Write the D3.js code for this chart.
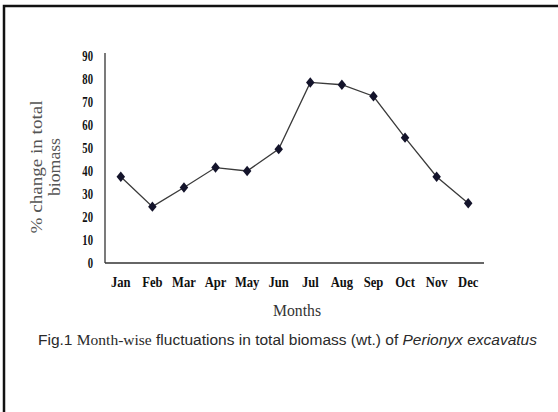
<!DOCTYPE html>
<html>
<head>
<meta charset="utf-8">
<script src="https://cdn.jsdelivr.net/npm/d3@7"></script>
<style>
  body { margin: 0; background: #fff; }
  svg { display: block; }
</style>
</head>
<body>
<div id="graph-container"></div>
<script>
const months = ["Jan", "Feb", "Mar", "Apr", "May", "Jun", "Jul", "Aug", "Sep", "Oct", "Nov", "Dec"];
const biomassChange = [37.5, 24.5, 32.8, 41.5, 40, 49.5, 78.5, 77.5, 72.5, 54.5, 37.5, 26];
const yTicks = [0, 10, 20, 30, 40, 50, 60, 70, 80, 90];

const width = 558;
const height = 412;
const margin = { top: 56, right: 74, bottom: 149, left: 105 };

const svg = d3
  .select("#graph-container")
  .append("svg")
  .attr("width", width)
  .attr("height", height);

// frame (only top and left edges show)
svg.append("path")
  .attr("d", `M4,${height} L4,6 L${width},6`)
  .attr("fill", "none")
  .attr("stroke", "#111")
  .attr("stroke-width", 2.5);

const x = d3
  .scaleBand()
  .domain(months)
  .range([margin.left, width - margin.right]);

const y = d3
  .scaleLinear()
  .domain([0, 90])
  .range([height - margin.bottom, margin.top]);

//axes
const xAxis = svg.append("g")
  .attr("transform", `translate(0,${y(0)})`)
  .call(d3.axisBottom(x).tickSize(0).tickPadding(14));

const yAxis = svg.append("g")
  .attr("transform", `translate(${margin.left},0)`)
  .call(d3.axisLeft(y).tickValues(yTicks).tickSize(0).tickPadding(12));

[xAxis, yAxis].forEach((g) => {
  g.select(".domain").attr("stroke", "#333").attr("stroke-width", 1.3);
  g.selectAll("text")
    .attr("font-family", "Liberation Serif, serif")
    .attr("font-weight", "bold")
    .attr("font-size", 14)
    .attr("fill", "#111");
});
xAxis.select(".domain").attr("d", `M${margin.left},0H${width - margin.right}`);
yAxis.select(".domain").attr("d", `M0,${y(0)}V${y(90) - 3}`);

// condensed look of the labels
yAxis.selectAll("text").each(function () {
  const w = this.getComputedTextLength();
  d3.select(this).attr("textLength", w * 0.76).attr("lengthAdjust", "spacingAndGlyphs");
});
xAxis.selectAll("text").each(function () {
  const w = this.getComputedTextLength();
  d3.select(this).attr("textLength", w * 0.9).attr("lengthAdjust", "spacingAndGlyphs");
});

//line
svg.append("path")
  .datum(biomassChange)
  .attr("fill", "none")
  .attr("stroke", "#3a3a3a")
  .attr("stroke-width", 1.3)
  .attr("d", d3.line()
    .x((d, i) => x(months[i]) + x.bandwidth() / 2)
    .y((d) => y(d)));

//markers: slightly tall diamonds
const diamond = {
  draw(context, size) {
    const h = Math.sqrt(size) * 0.72;
    const w = h * 0.82;
    context.moveTo(0, -h);
    context.lineTo(w, 0);
    context.lineTo(0, h);
    context.lineTo(-w, 0);
    context.closePath();
  },
};
svg.selectAll("path.marker")
  .data(biomassChange)
  .enter()
  .append("path")
  .attr("class", "marker")
  .attr("d", d3.symbol().type(diamond).size(52))
  .attr("transform", (d, i) => `translate(${x(months[i]) + x.bandwidth() / 2},${y(d)})`)
  .attr("fill", "#14142b");

//axis titles
svg.append("text")
  .attr("x", 297)
  .attr("y", 316)
  .attr("text-anchor", "middle")
  .attr("font-family", "Liberation Serif, serif")
  .attr("font-size", 17)
  .attr("fill", "#333")
  .attr("textLength", 48)
  .attr("lengthAdjust", "spacingAndGlyphs")
  .text("Months");

const yTitle = svg.append("text")
  .attr("transform", "translate(0,167) rotate(-90)")
  .attr("text-anchor", "middle")
  .attr("font-family", "Liberation Serif, serif")
  .attr("font-size", 16)
  .attr("fill", "#555");
yTitle.append("tspan").attr("x", 0).attr("y", 42)
  .attr("textLength", 133).attr("lengthAdjust", "spacingAndGlyphs")
  .text("% change  in total");
yTitle.append("tspan").attr("x", 0).attr("y", 60)
  .attr("textLength", 58).attr("lengthAdjust", "spacingAndGlyphs")
  .text("biomass");

//caption
const caption = svg.append("text")
  .attr("x", 38)
  .attr("y", 345)
  .attr("font-family", "Liberation Sans Narrow, Liberation Sans, sans-serif")
  .attr("font-size", 15.5)
  .attr("fill", "#2a2a2a")
  .attr("textLength", 499)
  .attr("lengthAdjust", "spacingAndGlyphs");
caption.append("tspan").text("Fig.1 ");
caption.append("tspan").attr("font-family", "Liberation Serif, serif").text("Month-wise");
caption.append("tspan").text(" fluctuations in total biomass (wt.) of ");
caption.append("tspan").attr("font-style", "italic").text("Perionyx  excavatus");
</script>
</body>
</html>
